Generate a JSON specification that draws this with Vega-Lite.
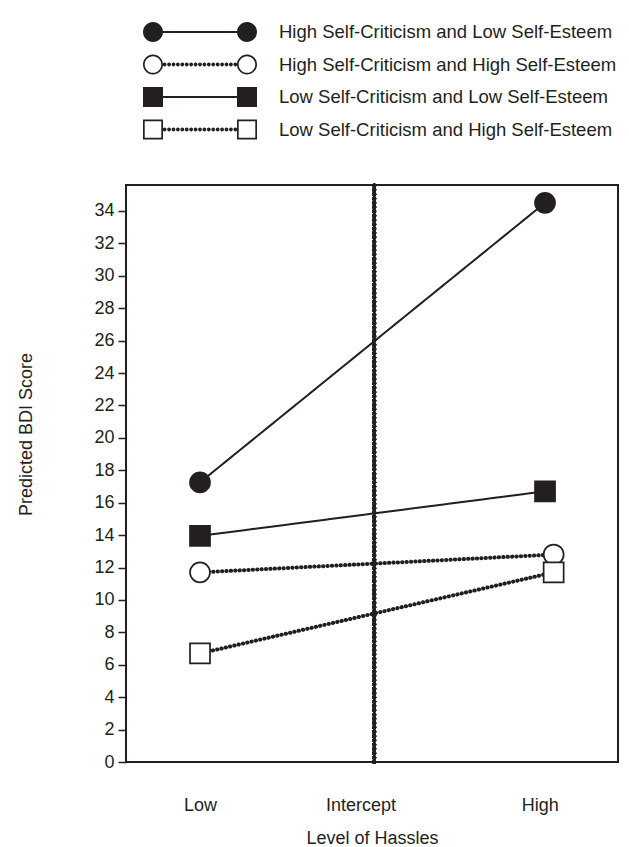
{
  "$schema": "https://vega.github.io/schema/vega-lite/v6.json",
  "width": 492,
  "height": 577,
  "autosize": {"type": "none"},
  "padding": {"left": 126, "top": 185, "right": 11, "bottom": 85},
  "background": "white",
  "config": {
    "font": "Liberation Sans",
    "view": {"stroke": "#231f20", "strokeWidth": 2},
    "axis": {
      "grid": false,
      "domain": false,
      "labelColor": "#231f20",
      "titleColor": "#231f20",
      "tickColor": "#231f20",
      "labelFontSize": 18,
      "titleFontSize": 18,
      "titleFontWeight": "normal",
      "labelFlush": false,
      "labelOverlap": false
    }
  },
  "data": {
    "values": [
      {"series": "High Self-Criticism and Low Self-Esteem", "hassle": 0, "bdi": 17.25},
      {"series": "High Self-Criticism and Low Self-Esteem", "hassle": 2, "bdi": 34.5},
      {"series": "High Self-Criticism and High Self-Esteem", "hassle": 0, "bdi": 11.7},
      {"series": "High Self-Criticism and High Self-Esteem", "hassle": 2.05, "bdi": 12.8},
      {"series": "Low Self-Criticism and Low Self-Esteem", "hassle": 0, "bdi": 13.95},
      {"series": "Low Self-Criticism and Low Self-Esteem", "hassle": 2, "bdi": 16.7},
      {"series": "Low Self-Criticism and High Self-Esteem", "hassle": 0, "bdi": 6.7},
      {"series": "Low Self-Criticism and High Self-Esteem", "hassle": 2.05, "bdi": 11.7}
    ]
  },
  "encoding": {
    "x": {
      "field": "hassle",
      "type": "quantitative",
      "scale": {"domain": [-0.429, 2.423], "nice": false, "zero": false},
      "axis": {
        "values": [0, 0.93, 1.97],
        "labelExpr": "datum.value < 0.5 ? 'Low' : datum.value < 1.5 ? 'Intercept' : 'High'",
        "ticks": false,
        "labelPadding": 34,
        "title": "Level of Hassles",
        "titleY": 81,
        "titleBaseline": "alphabetic"
      }
    },
    "y": {
      "field": "bdi",
      "type": "quantitative",
      "scale": {"domain": [0, 35.6], "nice": false},
      "axis": {
        "values": [0, 2, 4, 6, 8, 10, 12, 14, 16, 18, 20, 22, 24, 26, 28, 30, 32, 34],
        "tickSize": 8,
        "tickWidth": 1.5,
        "labelPadding": 4,
        "title": "Predicted BDI Score",
        "titleX": -95,
        "titleY": 249,
        "titleAlign": "center",
        "titleBaseline": "alphabetic",
        "titleAngle": 270
      }
    }
  },
  "layer": [
    {
      "mark": {"type": "rule", "color": "#231f20", "strokeWidth": 4, "strokeDash": [0.3, 4], "strokeCap": "round"},
      "encoding": {
        "x": {"datum": 1.01},
        "y": {"datum": 0},
        "y2": {"datum": 35.6}
      }
    },
    {
      "mark": {"type": "line", "color": "#231f20", "strokeCap": "round"},
      "encoding": {
        "strokeDash": {
          "field": "series",
          "type": "nominal",
          "scale": {
            "type": "ordinal",
            "domain": ["High Self-Criticism and Low Self-Esteem", "High Self-Criticism and High Self-Esteem", "Low Self-Criticism and Low Self-Esteem", "Low Self-Criticism and High Self-Esteem"],
            "range": [[1, 0], [0.3, 4.1], [1, 0], [0.3, 4.1]]
          },
          "legend": null
        },
        "strokeWidth": {
          "field": "series",
          "type": "nominal",
          "scale": {
            "type": "ordinal",
            "domain": ["High Self-Criticism and Low Self-Esteem", "High Self-Criticism and High Self-Esteem", "Low Self-Criticism and Low Self-Esteem", "Low Self-Criticism and High Self-Esteem"],
            "range": [2, 4, 2, 4]
          },
          "legend": null
        }
      }
    },
    {
      "mark": {"type": "point", "filled": false, "size": 400, "stroke": "#231f20", "strokeWidth": 1.7, "opacity": 1},
      "encoding": {
        "shape": {
          "field": "series",
          "type": "nominal",
          "scale": {
            "domain": ["High Self-Criticism and Low Self-Esteem", "High Self-Criticism and High Self-Esteem", "Low Self-Criticism and Low Self-Esteem", "Low Self-Criticism and High Self-Esteem"],
            "range": ["circle", "circle", "square", "square"]
          },
          "legend": null
        },
        "fill": {
          "field": "series",
          "type": "nominal",
          "scale": {
            "domain": ["High Self-Criticism and Low Self-Esteem", "High Self-Criticism and High Self-Esteem", "Low Self-Criticism and Low Self-Esteem", "Low Self-Criticism and High Self-Esteem"],
            "range": ["#231f20", "#ffffff", "#231f20", "#ffffff"]
          },
          "legend": null
        }
      }
    },
    {
      "mark": {"type": "point", "filled": true, "color": "#231f20", "opacity": 0},
      "encoding": {
        "shape": {
          "field": "series",
          "type": "nominal",
          "scale": {
            "domain": ["High Self-Criticism and Low Self-Esteem", "High Self-Criticism and High Self-Esteem", "Low Self-Criticism and Low Self-Esteem", "Low Self-Criticism and High Self-Esteem"],
            "range": [
              "M-1,0A0.1754,0.1754,0,1,1,-0.6492,0A0.1754,0.1754,0,1,1,-1,0Z M0.6492,0A0.1754,0.1754,0,1,1,1,0A0.1754,0.1754,0,1,1,0.6492,0Z M-0.66,-0.0175H0.66V0.0175H-0.66Z",
              "M-1,0A0.1754,0.1754,0,1,1,-0.6492,0A0.1754,0.1754,0,1,1,-1,0Z M-0.9702,0A0.1456,0.1456,0,1,0,-0.679,0A0.1456,0.1456,0,1,0,-0.9702,0Z M0.6492,0A0.1754,0.1754,0,1,1,1,0A0.1754,0.1754,0,1,1,0.6492,0Z M0.679,0A0.1456,0.1456,0,1,0,0.9702,0A0.1456,0.1456,0,1,0,0.679,0Z M-0.6533,0A0.0333,0.0333,0,1,1,-0.5867,0A0.0333,0.0333,0,1,1,-0.6533,0Z M-0.5758,0A0.0333,0.0333,0,1,1,-0.5092,0A0.0333,0.0333,0,1,1,-0.5758,0Z M-0.4983,0A0.0333,0.0333,0,1,1,-0.4317,0A0.0333,0.0333,0,1,1,-0.4983,0Z M-0.4208,0A0.0333,0.0333,0,1,1,-0.3542,0A0.0333,0.0333,0,1,1,-0.4208,0Z M-0.3433,0A0.0333,0.0333,0,1,1,-0.2767,0A0.0333,0.0333,0,1,1,-0.3433,0Z M-0.2658,0A0.0333,0.0333,0,1,1,-0.1992,0A0.0333,0.0333,0,1,1,-0.2658,0Z M-0.1883,0A0.0333,0.0333,0,1,1,-0.1217,0A0.0333,0.0333,0,1,1,-0.1883,0Z M-0.1108,0A0.0333,0.0333,0,1,1,-0.0442,0A0.0333,0.0333,0,1,1,-0.1108,0Z M-0.0333,0A0.0333,0.0333,0,1,1,0.0333,0A0.0333,0.0333,0,1,1,-0.0333,0Z M0.0442,0A0.0333,0.0333,0,1,1,0.1108,0A0.0333,0.0333,0,1,1,0.0442,0Z M0.1217,0A0.0333,0.0333,0,1,1,0.1883,0A0.0333,0.0333,0,1,1,0.1217,0Z M0.1992,0A0.0333,0.0333,0,1,1,0.2658,0A0.0333,0.0333,0,1,1,0.1992,0Z M0.2767,0A0.0333,0.0333,0,1,1,0.3433,0A0.0333,0.0333,0,1,1,0.2767,0Z M0.3542,0A0.0333,0.0333,0,1,1,0.4208,0A0.0333,0.0333,0,1,1,0.3542,0Z M0.4317,0A0.0333,0.0333,0,1,1,0.4983,0A0.0333,0.0333,0,1,1,0.4317,0Z M0.5092,0A0.0333,0.0333,0,1,1,0.5758,0A0.0333,0.0333,0,1,1,0.5092,0Z M0.5867,0A0.0333,0.0333,0,1,1,0.6533,0A0.0333,0.0333,0,1,1,0.5867,0Z",
              "M-1,-0.1754H-0.6492V0.1754H-1Z M0.6492,-0.1754H1V0.1754H0.6492Z M-0.66,-0.0175H0.66V0.0175H-0.66Z",
              "M-1,-0.1754H-0.6492V0.1754H-1Z M-0.9702,-0.1456V0.1456H-0.679V-0.1456Z M0.6492,-0.1754H1V0.1754H0.6492Z M0.679,-0.1456V0.1456H0.9702V-0.1456Z M-0.6533,0A0.0333,0.0333,0,1,1,-0.5867,0A0.0333,0.0333,0,1,1,-0.6533,0Z M-0.5758,0A0.0333,0.0333,0,1,1,-0.5092,0A0.0333,0.0333,0,1,1,-0.5758,0Z M-0.4983,0A0.0333,0.0333,0,1,1,-0.4317,0A0.0333,0.0333,0,1,1,-0.4983,0Z M-0.4208,0A0.0333,0.0333,0,1,1,-0.3542,0A0.0333,0.0333,0,1,1,-0.4208,0Z M-0.3433,0A0.0333,0.0333,0,1,1,-0.2767,0A0.0333,0.0333,0,1,1,-0.3433,0Z M-0.2658,0A0.0333,0.0333,0,1,1,-0.1992,0A0.0333,0.0333,0,1,1,-0.2658,0Z M-0.1883,0A0.0333,0.0333,0,1,1,-0.1217,0A0.0333,0.0333,0,1,1,-0.1883,0Z M-0.1108,0A0.0333,0.0333,0,1,1,-0.0442,0A0.0333,0.0333,0,1,1,-0.1108,0Z M-0.0333,0A0.0333,0.0333,0,1,1,0.0333,0A0.0333,0.0333,0,1,1,-0.0333,0Z M0.0442,0A0.0333,0.0333,0,1,1,0.1108,0A0.0333,0.0333,0,1,1,0.0442,0Z M0.1217,0A0.0333,0.0333,0,1,1,0.1883,0A0.0333,0.0333,0,1,1,0.1217,0Z M0.1992,0A0.0333,0.0333,0,1,1,0.2658,0A0.0333,0.0333,0,1,1,0.1992,0Z M0.2767,0A0.0333,0.0333,0,1,1,0.3433,0A0.0333,0.0333,0,1,1,0.2767,0Z M0.3542,0A0.0333,0.0333,0,1,1,0.4208,0A0.0333,0.0333,0,1,1,0.3542,0Z M0.4317,0A0.0333,0.0333,0,1,1,0.4983,0A0.0333,0.0333,0,1,1,0.4317,0Z M0.5092,0A0.0333,0.0333,0,1,1,0.5758,0A0.0333,0.0333,0,1,1,0.5092,0Z M0.5867,0A0.0333,0.0333,0,1,1,0.6533,0A0.0333,0.0333,0,1,1,0.5867,0Z"
            ]
          },
          "legend": {
            "orient": "none",
            "legendX": 17,
            "legendY": -164,
            "title": null,
            "padding": 0,
            "symbolSize": 12996,
            "symbolOpacity": 1,
            "symbolStrokeWidth": 0,
            "symbolFillColor": "#231f20",
            "labelFontSize": 18.5,
            "labelFont": "Liberation Sans",
            "labelColor": "#231f20",
            "labelOffset": 22,
            "labelLimit": 500,
            "clipHeight": 22,
            "rowPadding": 10.5
          }
        }
      }
    }
  ],
  "resolve": {"scale": {"shape": "independent"}, "legend": {"shape": "independent"}}
}
